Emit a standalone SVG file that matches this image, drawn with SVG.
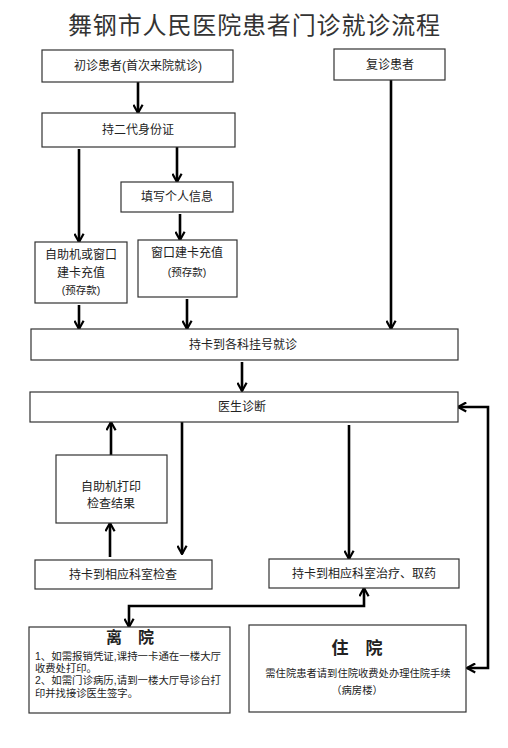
<svg xmlns="http://www.w3.org/2000/svg" width="508" height="748" viewBox="0 0 508 748">
<defs>
<style>
.box{fill:#fff;stroke:#333;stroke-width:1.2}
.t{font-family:"Liberation Sans","Noto Sans CJK SC",sans-serif;font-size:12px;fill:#222;text-anchor:middle}
.s{font-size:10.5px}
.l{font-family:"Liberation Sans","Noto Sans CJK SC",sans-serif;font-size:10.3px;fill:#222}
.b{font-weight:bold;font-size:16px}
.c{fill:none;stroke:#000;stroke-width:2.6;marker-end:url(#ah)}
.d{marker-start:url(#ah)}
</style>
<marker id="ah" viewBox="0 0 12 12" refX="10.5" refY="6" markerWidth="11" markerHeight="11" markerUnits="userSpaceOnUse" orient="auto-start-reverse">
<path d="M1.5,1 L10.5,6 L1.5,11" fill="none" stroke="#000" stroke-width="2.4"/>
</marker>
</defs>
<rect width="508" height="748" fill="#fff"/>
<text x="254" y="34" class="t" style="font-size:24px;fill:#333" textLength="372" lengthAdjust="spacing">舞钢市人民医院患者门诊就诊流程</text>

<g id="connectors">
<path class="c" d="M138,82 V113"/>
<path class="c" d="M79,149 V242"/>
<path class="c" d="M177,147 V182"/>
<path class="c" d="M180,214 V240"/>
<path class="c" d="M391,80 V329"/>
<path class="c" d="M79,305 V329"/>
<path class="c" d="M187,299 V329"/>
<path class="c" d="M242,362 V391"/>
<path class="c" d="M111,455 V422"/>
<path class="c" d="M110,557 V523"/>
<path class="c" d="M182,422 V554"/>
<path class="c" d="M349,425 V559"/>
<path class="c d" d="M364,588 V606 H129 V627"/>
<path class="c d" d="M458,407 H488 V668 H467"/>
</g>

<g id="n1"><rect class="box" x="42" y="50" width="191" height="32"/><text class="t" x="138" y="70">初诊患者(首次来院就诊)</text></g>
<g id="n2"><rect class="box" x="334" y="49" width="111" height="31"/><text class="t" x="390" y="69">复诊患者</text></g>
<g id="n3"><rect class="box" x="42" y="113" width="193" height="34"/><text class="t" x="138" y="134">持二代身份证</text></g>
<g id="n4"><rect class="box" x="121" y="182" width="112" height="30"/><text class="t" x="177" y="201">填写个人信息</text></g>
<g id="n5"><rect class="box" x="35" y="242" width="92" height="61"/><text class="t" x="81" y="259">自助机或窗口</text><text class="t" x="81" y="277">建卡充值</text><text class="t s" x="81" y="294">(预存款)</text></g>
<g id="n6"><rect class="box" x="138" y="240" width="99" height="57"/><text class="t" x="187" y="257">窗口建卡充值</text><text class="t s" x="187" y="276">(预存款)</text></g>
<g id="n7"><rect class="box" x="31" y="329" width="427" height="31"/><text class="t" x="243" y="349">持卡到各科挂号就诊</text></g>
<g id="n8"><rect class="box" x="30" y="392" width="428" height="30"/><text class="t" x="242" y="411">医生诊断</text></g>
<g id="n9"><rect class="box" x="56" y="455" width="111" height="68"/><text class="t" x="111" y="491">自助机打印</text><text class="t" x="111" y="508">检查结果</text></g>
<g id="n10"><rect class="box" x="35" y="560" width="177" height="29"/><text class="t" x="123" y="579">持卡到相应科室检查</text></g>
<g id="n11"><rect class="box" x="269" y="559" width="190" height="29"/><text class="t" x="364" y="578">持卡到相应科室治疗、取药</text></g>
<g id="n12"><rect class="box" x="29" y="627" width="201" height="86"/>
<text class="t b" x="130" y="643">离　院</text>
<text class="l" x="35" y="660" textLength="186" lengthAdjust="spacingAndGlyphs">1、如需报销凭证,课持一卡通在一楼大厅</text>
<text class="l" x="35" y="672">收费处打印。</text>
<text class="l" x="35" y="684" textLength="186" lengthAdjust="spacingAndGlyphs">2、如需门诊病历,请到一楼大厅导诊台打</text>
<text class="l" x="35" y="697">印并找接诊医生签字。</text>
</g>
<g id="n13"><rect class="box" x="249" y="625" width="217" height="87"/>
<text class="t b" x="357" y="654" style="font-size:17px">住　院</text>
<text class="t" x="358" y="677" style="font-size:10.3px">需住院患者请到住院收费处办理住院手续</text>
<text class="t" x="357" y="694" style="font-size:10.3px">（病房楼）</text>
</g>
</svg>
